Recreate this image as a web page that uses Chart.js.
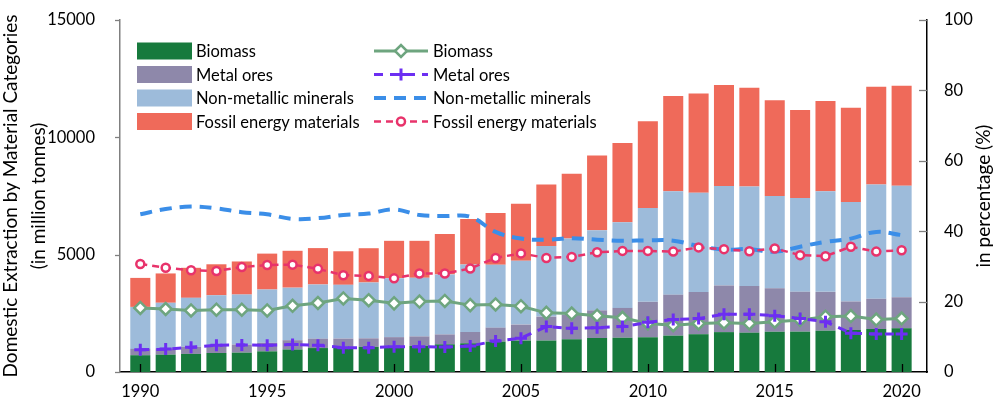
<!DOCTYPE html>
<html>
<head>
<meta charset="utf-8">
<script src="https://cdn.jsdelivr.net/npm/chart.js@4/dist/chart.umd.min.js"></script>
<style>
  body { margin: 0; background: #fff; }
  #chart { display: block; }
</style>
</head>
<body>
<canvas id="chart" width="996" height="398"></canvas>
<script>
const years = [1990, 1991, 1992, 1993, 1994, 1995, 1996, 1997, 1998, 1999, 2000, 2001, 2002, 2003, 2004, 2005,
    2006, 2007, 2008, 2009, 2010, 2011, 2012, 2013, 2014, 2015, 2016, 2017, 2018, 2019, 2020];

// million tonnes
const biomass = [715, 740, 770, 810, 825, 880, 960, 1020, 1070, 1070, 1090, 1110, 1180, 1225, 1295, 1340,
    1340, 1395, 1450, 1460, 1480, 1550, 1610, 1700, 1675, 1715, 1720, 1760, 1790, 1830, 1860];
const metalOres = [270, 265, 305, 340, 345, 365, 395, 400, 355, 365, 395, 405, 420, 480, 595, 680,
    1020, 1040, 1175, 1270, 1510, 1745, 1800, 1990, 1985, 1850, 1700, 1655, 1215, 1290, 1325];
const nonMetallic = [1790, 1945, 2085, 2120, 2130, 2270, 2240, 2310, 2290, 2380, 2515, 2500, 2560, 2880, 2680, 2725,
    3010, 3250, 3420, 3650, 4000, 4410, 4230, 4240, 4250, 3930, 4000, 4285, 4240, 4870, 4755];
const fossil = [1235, 1250, 1280, 1320, 1410, 1530, 1570, 1550, 1430, 1460, 1590, 1575, 1720, 1940, 2210, 2430,
    2620, 2760, 3180, 3380, 3700, 4060, 4230, 4300, 4200, 4085, 3745, 3845, 4015, 4170, 4255];

// share in %
const biomassPct = [18.2, 17.9, 17.5, 17.7, 17.7, 17.5, 18.8, 19.6, 20.9, 20.4, 19.5, 20.0, 20.2, 19.0, 19.2, 18.7,
    16.8, 16.6, 16.0, 15.4, 13.8, 13.3, 13.8, 14.0, 13.8, 14.3, 14.8, 15.7, 15.9, 14.9, 15.2];
const metalPct = [6.3, 6.5, 7.0, 7.6, 7.7, 7.6, 7.8, 7.6, 6.9, 6.9, 7.2, 7.2, 7.1, 7.4, 8.8, 9.6,
    12.9, 12.4, 12.6, 12.9, 14.1, 14.9, 15.2, 16.4, 16.4, 16.0, 15.2, 14.3, 11.0, 10.8, 10.8];
const nonMetallicPct = [44.8, 46.3, 47.0, 46.5, 45.4, 44.8, 43.5, 43.7, 44.6, 45.0, 46.2, 44.6, 44.3, 44.1, 39.8, 37.9,
    37.6, 38.0, 37.6, 37.3, 37.4, 37.3, 35.8, 34.8, 34.9, 34.2, 35.6, 37.0, 37.9, 39.8, 38.9];
const fossilPct = [30.7, 29.6, 28.9, 28.7, 29.8, 30.4, 30.5, 29.3, 27.5, 27.3, 26.6, 28.0, 28.0, 29.4, 32.4, 33.7,
    32.4, 32.7, 34.0, 34.4, 34.4, 34.2, 35.4, 34.9, 34.3, 35.1, 33.2, 32.9, 35.6, 34.2, 34.6];

const xTicks = [1990, 1995, 2000, 2005, 2010, 2015, 2020];
const leftTicks = [0, 5000, 10000, 15000];
const rightTicks = [0, 20, 40, 60, 80, 100];
const leftTitle = ["Domestic Extraction by Material Categories", "(in million tonnes)"];
const rightTitle = "in percentage (%)";

const FONT = "Lato, 'Open Sans', sans-serif";
const TICK_FONT = { family: FONT, size: 16.5 };
// small lineHeight keeps the y label padding from pushing the plot area down
const Y_TICK_FONT = { family: FONT, size: 16.5, lineHeight: 0.3 };

function barSet(label, data, color) {
    return { type: "bar", label, data, backgroundColor: color, borderWidth: 0, yAxisID: "y", order: 10,
        barPercentage: 0.79, categoryPercentage: 1 };
}
function lineSet(label, data, opts) {
    return Object.assign({ type: "line", label, data, yAxisID: "y1", fill: false, tension: 0 }, opts);
}

const datasets = [
    barSet("Biomass", biomass, "#177a3d"),
    barSet("Metal ores", metalOres, "#8e88aa"),
    barSet("Non-metallic minerals", nonMetallic, "#9dbbda"),
    barSet("Fossil energy materials", fossil, "#ef6a5a"),
    lineSet("Biomass", biomassPct, { order: 3, borderColor: "#6ea57f", borderWidth: 3,
        pointStyle: "rectRot", pointRadius: 6, pointBorderWidth: 2.5,
        pointBackgroundColor: "#fff", pointBorderColor: "#6ea57f" }),
    lineSet("Metal ores", metalPct, { order: 2, borderColor: "#6c2ef2", borderWidth: 3, borderDash: [9, 7],
        pointStyle: "cross", pointRadius: 6, pointBorderWidth: 3,
        pointBackgroundColor: "#6c2ef2", pointBorderColor: "#6c2ef2" }),
    lineSet("Non-metallic minerals", nonMetallicPct, { order: 1, borderColor: "#3b8ee8", borderWidth: 4,
        borderDash: [12, 8], tension: 0.4, pointRadius: 0 }),
    lineSet("Fossil energy materials", fossilPct, { order: 0, borderColor: "#e8336b", borderWidth: 2.5,
        borderDash: [7, 5], pointStyle: "circle", pointRadius: 4, pointBorderWidth: 2.5,
        pointBackgroundColor: "#fff", pointBorderColor: "#e8336b" })
];

// legend inside the plot, tick marks and axis titles
const decorPlugin = {
    id: "decor",
    afterDatasetsDraw(chart) {
        const ctx = chart.ctx;
        const { x, y, y1 } = chart.scales;
        ctx.save();
        ctx.lineWidth = 1.3;
        ctx.strokeStyle = "#000";
        xTicks.forEach(v => {
            const px = Math.round(x.getPixelForValue(v)) + 0.5;
            ctx.beginPath(); ctx.moveTo(px, y.bottom); ctx.lineTo(px, y.bottom - 8); ctx.stroke();
        });
        ctx.strokeStyle = "#808080";
        leftTicks.forEach(v => {
            const py = Math.round(y.getPixelForValue(v)) + 0.5;
            ctx.beginPath(); ctx.moveTo(x.left, py); ctx.lineTo(x.left - 5, py); ctx.stroke();
        });
        rightTicks.slice(1).forEach(v => {
            const py = Math.round(y1.getPixelForValue(v)) + 0.5;
            ctx.beginPath(); ctx.moveTo(x.right, py); ctx.lineTo(x.right - 8, py); ctx.stroke();
        });

        // axis titles
        ctx.fillStyle = "#000";
        ctx.font = "19px " + FONT;
        ctx.textAlign = "center";
        ctx.textBaseline = "middle";
        const midY = (y.top + y.bottom) / 2;
        [[leftTitle[0], 11], [leftTitle[1], 39], [rightTitle, 984]].forEach(([txt, cx]) => {
            ctx.save();
            ctx.translate(cx, midY);
            ctx.rotate(-Math.PI / 2);
            ctx.fillText(txt, 0, 0);
            ctx.restore();
        });

        // legend
        ctx.font = "16.5px " + FONT;
        ctx.textAlign = "left";
        const rows = [51, 74.5, 98, 121.5];
        for (let i = 0; i < 4; i++) {
            const bar = chart.data.datasets[i];
            ctx.fillStyle = bar.backgroundColor;
            ctx.fillRect(137, rows[i] - 8.5, 55, 17);
            ctx.fillStyle = "#000";
            ctx.fillText(bar.label, 196, rows[i] + 1);

            const ln = chart.data.datasets[i + 4];
            ctx.save();
            ctx.strokeStyle = ln.borderColor;
            ctx.lineWidth = ln.borderWidth;
            ctx.setLineDash(ln.borderDash || []);
            ctx.beginPath(); ctx.moveTo(374, rows[i]); ctx.lineTo(428, rows[i]); ctx.stroke();
            ctx.setLineDash([]);
            if (ln.pointRadius > 0) {
                ctx.fillStyle = ln.pointBackgroundColor;
                ctx.strokeStyle = ln.pointBorderColor;
                ctx.lineWidth = ln.pointBorderWidth;
                Chart.helpers.drawPoint(ctx, { pointStyle: ln.pointStyle, radius: ln.pointRadius,
                    rotation: 0, borderWidth: ln.pointBorderWidth }, 401, rows[i]);
            }
            ctx.restore();
            ctx.fillText(ln.label, 433, rows[i] + 1);
        }
        ctx.restore();
    }
};

new Chart(document.getElementById("chart"), {
    data: { labels: years, datasets },
    options: {
        responsive: false,
        animation: false,
        layout: { padding: { top: 20, right: 0, bottom: 0, left: 0 } },
        plugins: { legend: { display: false }, tooltip: { enabled: false } },
        scales: {
            x: {
                type: "linear", min: 1989.2, max: 2021, stacked: true, offset: false,
                grid: { display: false },
                border: { display: true, color: "#000", width: 1.5 },
                afterBuildTicks: s => { s.ticks = xTicks.map(v => ({ value: v })); },
                afterFit: s => { s.height = 26; },
                ticks: { color: "#000", font: TICK_FONT, padding: 2, maxRotation: 0,
                    callback: v => String(v) }
            },
            y: {
                position: "left", stacked: true, min: 0, max: 15000,
                grid: { display: false },
                border: { display: true, color: "#808080", width: 1.5 },
                afterBuildTicks: s => { s.ticks = leftTicks.map(v => ({ value: v })); },
                afterFit: s => { s.width = 120; },
                ticks: { color: "#000", font: Y_TICK_FONT, padding: 17, callback: v => String(v) }
            },
            y1: {
                position: "right", min: 0, max: 100,
                grid: { display: false },
                border: { display: true, color: "#000", width: 1.5 },
                afterBuildTicks: s => { s.ticks = rightTicks.map(v => ({ value: v })); },
                afterFit: s => { s.width = 69; },
                ticks: { color: "#000", font: Y_TICK_FONT, padding: 9, callback: v => String(v) }
            }
        }
    },
    plugins: [decorPlugin]
});
</script>
</body>
</html>
